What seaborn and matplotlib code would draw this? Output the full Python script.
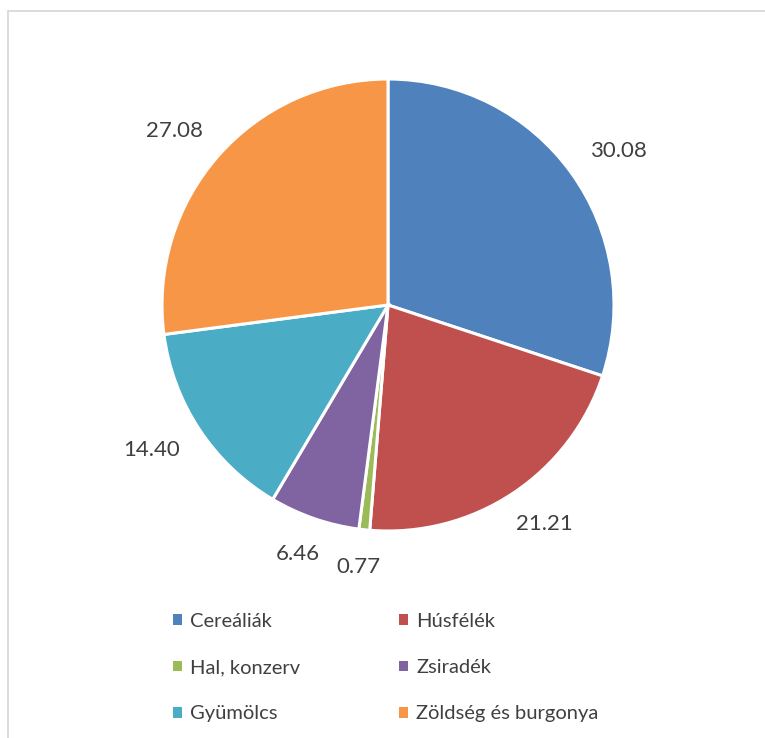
import matplotlib
matplotlib.use("Agg")
import numpy as np
import matplotlib.pyplot as plt
from matplotlib.lines import Line2D
import seaborn as sns

categories = ["Cereáliák", "Húsfélék", "Hal, konzerv", "Zsiradék", "Gyümölcs", "Zöldség és burgonya"]
values = [30.08, 21.21, 0.77, 6.46, 14.40, 27.08]
value_labels = ["30.08", "21.21", "0.77", "6.46", "14.40", "27.08"]
colors = ["#4F81BD", "#C0504D", "#9BBB59", "#8064A2", "#4BACC6", "#F79646"]

sns.set_theme(style="white")
plt.rcParams["font.family"] = ["Lato", "DejaVu Sans"]
palette = sns.color_palette(colors)

W, H = 765, 738
fig = plt.figure(figsize=(W / 100, H / 100), dpi=100)
fig.patch.set_facecolor("white")

cx, cy, R = 388, 305, 226
span = 1.35
side = 2 * span * R
ax = fig.add_axes([(cx - side / 2) / W, (H - cy - side / 2) / H, side / W, side / H])
wedges, _ = ax.pie(
    values,
    colors=palette,
    startangle=90,
    counterclock=False,
    wedgeprops=dict(edgecolor="white", linewidth=2.2),
)
ax.set_xlim(-span, span)
ax.set_ylim(-span, span)
ax.set_aspect("equal")
ax.axis("off")

# "outside end" style data labels: anchor just outside the rim, box pushed outward
renderer = fig.canvas.get_renderer()
anchor = 1.13
for w, lab in zip(wedges, value_labels):
    th = np.deg2rad((w.theta1 + w.theta2) / 2)
    t = ax.text(anchor * np.cos(th), anchor * np.sin(th), lab, ha="center", va="center",
                fontsize=16, color="#404040")
    bb = t.get_window_extent(renderer)
    bw, bh = bb.width, bb.height * 0.78
    t.set_position((anchor * np.cos(th) + bw / 2 * np.cos(th) / R,
                    anchor * np.sin(th) + bh / 2 * np.sin(th) / R))

# row-wise legend order for 2 columns
order = [0, 2, 4, 1, 3, 5]
leg = fig.legend(
    [wedges[i] for i in order],
    [categories[i] for i in order],
    loc="upper left",
    bbox_to_anchor=(173 / W, 1 - 613 / H),
    ncol=2,
    frameon=False,
    fontsize=14.5,
    handlelength=0.45,
    handleheight=0.45,
    handletextpad=0.4,
    labelspacing=1.45,
    columnspacing=4.9,
    borderpad=0,
    borderaxespad=0,
)
for t in leg.get_texts():
    t.set_color("#404040")
for h in leg.legend_handles:
    h.set_edgecolor("none")

# chart-area border (top and left visible)
fig.add_artist(Line2D([7.5 / W, 1], [1 - 10.5 / H, 1 - 10.5 / H], color="#D9D9D9", lw=1.3, transform=fig.transFigure))
fig.add_artist(Line2D([7.5 / W, 7.5 / W], [0, 1 - 10.5 / H], color="#D9D9D9", lw=1.3, transform=fig.transFigure))

fig.savefig("out.png", dpi=100, facecolor="white")
